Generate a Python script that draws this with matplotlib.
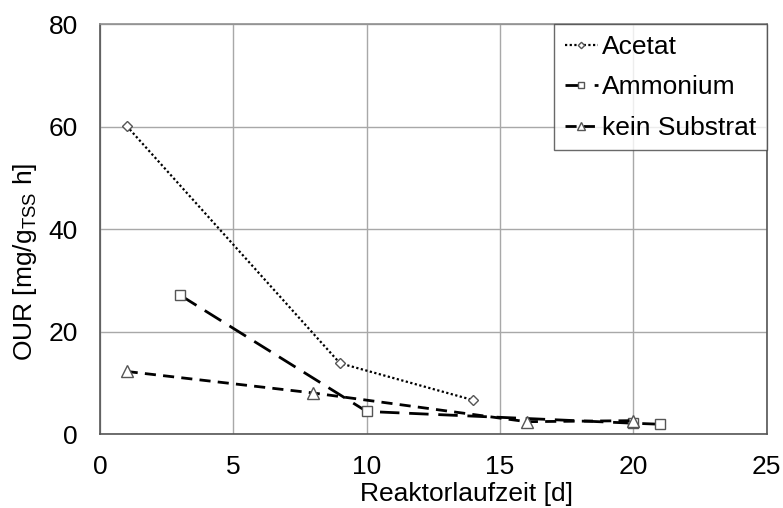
import matplotlib.pyplot as plt

plt.rcParams['font.family'] = ['Liberation Sans', 'DejaVu Sans']

acetat_x = [1, 9, 14]
acetat_y = [60.2, 13.9, 6.7]
ammon_x = [3, 10, 20, 21]
ammon_y = [27.2, 4.5, 2.2, 2.0]
kein_x = [1, 8, 16, 20]
kein_y = [12.3, 8.1, 2.5, 2.7]

fig = plt.figure(figsize=(7.83, 5.08), dpi=100)
ax = fig.add_axes([0.1277, 0.1447, 0.8513, 0.8071])

mk = dict(markerfacecolor='white', markeredgecolor='#555555', markeredgewidth=1.0)
ax.plot(acetat_x, acetat_y, color='black', lw=1.6, linestyle=(0, (1, 1.1)),
        marker='D', markersize=5, label='Acetat', **mk)
ax.plot(ammon_x, ammon_y, color='black', lw=2.0, linestyle=(0, (7, 3.5)),
        marker='s', markersize=7.5, label='Ammonium', **mk)
ax.plot(kein_x, kein_y, color='black', lw=2.0, linestyle=(0, (4, 2.6)),
        marker='^', markersize=8, label='kein Substrat', **mk)

ax.set_xlim(0, 25)
ax.set_ylim(0, 80)
ax.set_xticks([0, 5, 10, 15, 20, 25])
ax.set_yticks([0, 20, 40, 60, 80])
ax.grid(True, color='#a8a8a8', lw=1.0)
ax.set_axisbelow(True)
for s in ax.spines.values():
    s.set_color('#555555')
    s.set_linewidth(1.2)
ax.spines['top'].set_color('#909090')
ax.tick_params(labelsize=19, length=0)
ax.tick_params(axis='x', pad=15)
ax.tick_params(axis='y', pad=16)

fig.text(0.596, 0.028, 'Reaktorlaufzeit [d]', fontsize=19, ha='center', va='center')
fig.text(0.032, 0.484, 'OUR [mg/g$_{\\mathregular{TSS}}$ h]', fontsize=19,
         ha='center', va='center', rotation=90)

leg = ax.legend(loc='upper right', fontsize=19, frameon=True, fancybox=False,
                borderaxespad=0, handlelength=1.25, handletextpad=0.15,
                labelspacing=0.62, borderpad=0.4, markerscale=0.65)
leg.get_frame().set_edgecolor('#444444')
leg.get_frame().set_linewidth(1.0)

fig.savefig('out.png', dpi=100)
